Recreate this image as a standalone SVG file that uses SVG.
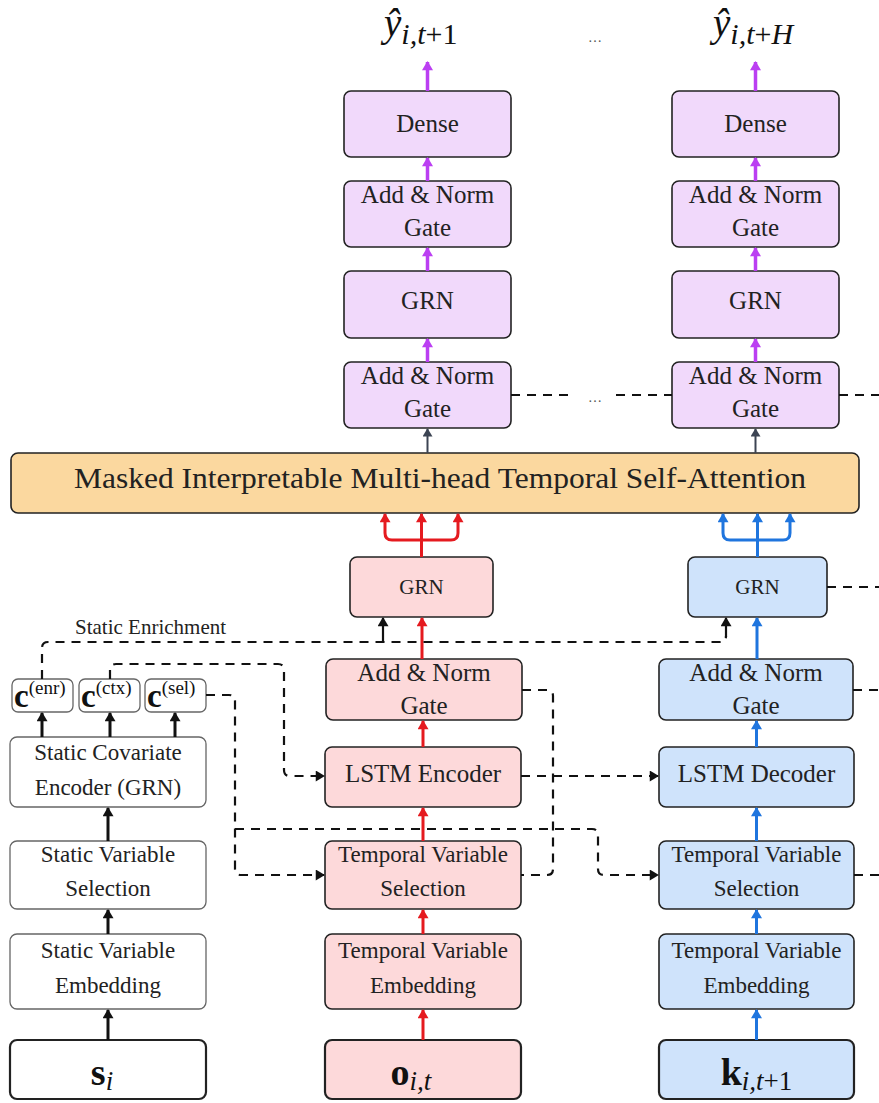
<svg xmlns="http://www.w3.org/2000/svg" width="879" height="1103" viewBox="0 0 879 1103">
  <style>
    .box{stroke:#222;stroke-width:1.6}
    .pu{fill:#f1d9fb}
    .rd{fill:#fdd9da}
    .bl{fill:#cfe3fb}
    .att{fill:#fbd89f}
    .st{fill:#fff;stroke:#666;stroke-width:1.3}
    .inp{stroke:#222;stroke-width:2.2}
    .lbl{font-family:"Liberation Serif",serif;font-size:23px;fill:#222;text-anchor:middle}
    .sm{font-size:21px}
    .big{font-size:25px}
    .math{font-family:"Liberation Serif",serif;fill:#111}
    .dash{fill:none;stroke:#111;stroke-width:2.2;stroke-dasharray:9 7}
    .ap{stroke:#bb3ff2;stroke-width:3.5;fill:none}
    .ar{stroke:#e51a1f;stroke-width:3;fill:none}
    .ab{stroke:#1f75de;stroke-width:3;fill:none}
    .ag{stroke:#3c4453;stroke-width:2;fill:none}
    .ak{stroke:#111;stroke-width:3;fill:none}
    .ak2{stroke:#111;stroke-width:2.2;fill:none}
    .dots{font-family:"Liberation Serif",serif;font-size:14px;fill:#555;text-anchor:middle}
  </style>
  <defs>
    <marker id="mP" viewBox="0 0 10 12" refX="9" refY="6" markerWidth="14" markerHeight="11" markerUnits="userSpaceOnUse" orient="auto"><path d="M0,0 L10,6 L0,12 z" fill="#bb3ff2"/></marker>
    <marker id="mR" viewBox="0 0 10 12" refX="9" refY="6" markerWidth="14" markerHeight="11" markerUnits="userSpaceOnUse" orient="auto"><path d="M0,0 L10,6 L0,12 z" fill="#e51a1f"/></marker>
    <marker id="mB" viewBox="0 0 10 12" refX="9" refY="6" markerWidth="14" markerHeight="11" markerUnits="userSpaceOnUse" orient="auto"><path d="M0,0 L10,6 L0,12 z" fill="#1f75de"/></marker>
    <marker id="mG" viewBox="0 0 10 12" refX="9" refY="6" markerWidth="12" markerHeight="10" markerUnits="userSpaceOnUse" orient="auto"><path d="M0,0 L10,6 L0,12 z" fill="#3c4453"/></marker>
    <marker id="mK" viewBox="0 0 10 12" refX="9" refY="6" markerWidth="14" markerHeight="11" markerUnits="userSpaceOnUse" orient="auto"><path d="M0,0 L10,6 L0,12 z" fill="#111"/></marker>
  </defs>

  <!-- outputs -->
  <g id="out1">
    <text class="math" x="384" y="36" font-size="39" font-style="italic">ŷ<tspan font-size="30" dy="8">i,t</tspan><tspan font-size="30" font-style="normal">+1</tspan></text>
  </g>
  <text class="dots" x="595" y="42">…</text>
  <g id="outH">
    <text class="math" x="713" y="36" font-size="39" font-style="italic">ŷ<tspan font-size="30" dy="8">i,t</tspan><tspan font-size="30" font-style="normal">+</tspan><tspan font-size="30">H</tspan></text>
  </g>

  <!-- decoder output stack, horizon 1 -->
  <g id="dense1"><rect class="box pu" x="344" y="91" width="167" height="66" rx="7"/><text class="lbl big" x="427.5" y="132">Dense</text></g>
  <g id="gate1b"><rect class="box pu" x="344" y="181" width="167" height="66" rx="7"/><text class="lbl big" x="427.5" y="203">Add &amp; Norm</text><text class="lbl big" x="427.5" y="236">Gate</text></g>
  <g id="grn1"><rect class="box pu" x="344" y="271" width="167" height="67" rx="7"/><text class="lbl big" x="427.5" y="309">GRN</text></g>
  <g id="gate1a"><rect class="box pu" x="344" y="362" width="167" height="66" rx="7"/><text class="lbl big" x="427.5" y="384">Add &amp; Norm</text><text class="lbl big" x="427.5" y="417">Gate</text></g>

  <!-- decoder output stack, horizon H -->
  <g id="denseH"><rect class="box pu" x="672" y="91" width="167" height="66" rx="7"/><text class="lbl big" x="755.5" y="132">Dense</text></g>
  <g id="gateHb"><rect class="box pu" x="672" y="181" width="167" height="66" rx="7"/><text class="lbl big" x="755.5" y="203">Add &amp; Norm</text><text class="lbl big" x="755.5" y="236">Gate</text></g>
  <g id="grnH"><rect class="box pu" x="672" y="271" width="167" height="67" rx="7"/><text class="lbl big" x="755.5" y="309">GRN</text></g>
  <g id="gateHa"><rect class="box pu" x="672" y="362" width="167" height="66" rx="7"/><text class="lbl big" x="755.5" y="384">Add &amp; Norm</text><text class="lbl big" x="755.5" y="417">Gate</text></g>

  <text class="dots" x="595" y="402">…</text>

  <!-- attention -->
  <g id="attention"><rect class="box att" x="11" y="453" width="848" height="60" rx="7"/><text class="lbl" x="440" y="488" style="font-size:29px" textLength="732" lengthAdjust="spacingAndGlyphs">Masked Interpretable Multi-head Temporal Self-Attention</text></g>

  <!-- past (encoder) column -->
  <g id="grnPast"><rect class="box rd" x="350" y="557" width="143" height="60" rx="7"/><text class="lbl sm" x="421.5" y="594">GRN</text></g>
  <g id="gatePast"><rect class="box rd" x="326" y="659" width="196" height="61" rx="7"/><text class="lbl big" x="424" y="681">Add &amp; Norm</text><text class="lbl big" x="424" y="714">Gate</text></g>
  <g id="lstmEnc"><rect class="box rd" x="325" y="747" width="196" height="60" rx="7"/><text class="lbl big" x="423" y="782">LSTM Encoder</text></g>
  <g id="tvsPast"><rect class="box rd" x="325" y="841" width="196" height="68" rx="7"/><text class="lbl" x="423" y="862">Temporal Variable</text><text class="lbl" x="423" y="896">Selection</text></g>
  <g id="tvePast"><rect class="box rd" x="325" y="934" width="196" height="75" rx="7"/><text class="lbl" x="423" y="958">Temporal Variable</text><text class="lbl" x="423" y="993">Embedding</text></g>
  <g id="inPast"><rect class="inp rd" x="325" y="1040" width="196" height="59" rx="7"/>
    <text class="math" x="411" y="1085" font-size="38" text-anchor="middle"><tspan font-weight="bold">o</tspan><tspan font-size="27" font-style="italic" dy="5">i,t</tspan></text></g>

  <!-- future (decoder) column -->
  <g id="grnFut"><rect class="box bl" x="688" y="557" width="139" height="60" rx="7"/><text class="lbl sm" x="757.5" y="594">GRN</text></g>
  <g id="gateFut"><rect class="box bl" x="659" y="659" width="194" height="61" rx="7"/><text class="lbl big" x="756" y="681">Add &amp; Norm</text><text class="lbl big" x="756" y="714">Gate</text></g>
  <g id="lstmDec"><rect class="box bl" x="659" y="747" width="195" height="60" rx="7"/><text class="lbl big" x="756.5" y="782">LSTM Decoder</text></g>
  <g id="tvsFut"><rect class="box bl" x="659" y="841" width="195" height="68" rx="7"/><text class="lbl" x="756.5" y="862">Temporal Variable</text><text class="lbl" x="756.5" y="896">Selection</text></g>
  <g id="tveFut"><rect class="box bl" x="659" y="934" width="195" height="75" rx="7"/><text class="lbl" x="756.5" y="958">Temporal Variable</text><text class="lbl" x="756.5" y="993">Embedding</text></g>
  <g id="inFut"><rect class="inp bl" x="659" y="1040" width="195" height="59" rx="7"/>
    <text class="math" x="756.5" y="1085" font-size="38" text-anchor="middle"><tspan font-weight="bold">k</tspan><tspan font-size="27" font-style="italic" dy="5">i,t</tspan><tspan font-size="27">+1</tspan></text></g>

  <!-- static column -->
  <g id="cEnr"><rect class="st" x="12" y="679" width="61" height="33" rx="6"/><text class="math" x="14" y="707" font-size="33" font-weight="bold">c<tspan font-size="19" font-weight="normal" dy="-13">(enr)</tspan></text></g>
  <g id="cCtx"><rect class="st" x="79" y="679" width="61" height="33" rx="6"/><text class="math" x="81" y="707" font-size="33" font-weight="bold">c<tspan font-size="19" font-weight="normal" dy="-13">(ctx)</tspan></text></g>
  <g id="cSel"><rect class="st" x="145" y="679" width="61" height="33" rx="6"/><text class="math" x="147" y="707" font-size="33" font-weight="bold">c<tspan font-size="19" font-weight="normal" dy="-13">(sel)</tspan></text></g>
  <g id="sce"><rect class="st" x="10" y="737" width="196" height="70" rx="7"/><text class="lbl" x="108" y="760">Static Covariate</text><text class="lbl" x="108" y="795">Encoder (GRN)</text></g>
  <g id="svs"><rect class="st" x="10" y="841" width="196" height="68" rx="7"/><text class="lbl" x="108" y="862">Static Variable</text><text class="lbl" x="108" y="896">Selection</text></g>
  <g id="sve"><rect class="st" x="10" y="934" width="196" height="75" rx="7"/><text class="lbl" x="108" y="958">Static Variable</text><text class="lbl" x="108" y="993">Embedding</text></g>
  <g id="inStatic"><rect class="inp" fill="#fff" x="10" y="1040" width="196" height="59" rx="7"/>
    <text class="math" x="102" y="1085" font-size="38" text-anchor="middle"><tspan font-weight="bold">s</tspan><tspan font-size="27" font-style="italic" dy="5">i</tspan></text></g>

  <text class="lbl" x="75" y="634" style="font-size:21px;text-anchor:start">Static Enrichment</text>

  <g id="connectors">
    <!-- output stacks -->
    <line class="ap" x1="427.5" y1="91" x2="427.5" y2="62" marker-end="url(#mP)"/>
    <line class="ap" x1="427.5" y1="181" x2="427.5" y2="158" marker-end="url(#mP)"/>
    <line class="ap" x1="427.5" y1="271" x2="427.5" y2="248" marker-end="url(#mP)"/>
    <line class="ap" x1="427.5" y1="362" x2="427.5" y2="339" marker-end="url(#mP)"/>
    <line class="ap" x1="755.5" y1="91" x2="755.5" y2="62" marker-end="url(#mP)"/>
    <line class="ap" x1="755.5" y1="181" x2="755.5" y2="158" marker-end="url(#mP)"/>
    <line class="ap" x1="755.5" y1="271" x2="755.5" y2="248" marker-end="url(#mP)"/>
    <line class="ap" x1="755.5" y1="362" x2="755.5" y2="339" marker-end="url(#mP)"/>
    <line class="ag" x1="427.5" y1="453" x2="427.5" y2="429" marker-end="url(#mG)"/>
    <line class="ag" x1="755.5" y1="453" x2="755.5" y2="429" marker-end="url(#mG)"/>

    <!-- fan-out into attention -->
    <line class="ar" x1="421.5" y1="557" x2="421.5" y2="514" marker-end="url(#mR)"/>
    <path class="ar" d="M421.5,540 H392 Q385,540 385,533 V514" marker-end="url(#mR)"/>
    <path class="ar" d="M421.5,540 H451 Q458,540 458,533 V514" marker-end="url(#mR)"/>
    <line class="ab" x1="757.5" y1="557" x2="757.5" y2="514" marker-end="url(#mB)"/>
    <path class="ab" d="M757.5,540 H730 Q723,540 723,533 V514" marker-end="url(#mB)"/>
    <path class="ab" d="M757.5,540 H783 Q790,540 790,533 V514" marker-end="url(#mB)"/>

    <!-- past column -->
    <line class="ar" x1="423" y1="1040" x2="423" y2="1010" marker-end="url(#mR)"/>
    <line class="ar" x1="423" y1="934" x2="423" y2="910" marker-end="url(#mR)"/>
    <line class="ar" x1="423" y1="841" x2="423" y2="808" marker-end="url(#mR)"/>
    <line class="ar" x1="423" y1="747" x2="423" y2="721" marker-end="url(#mR)"/>
    <line class="ar" x1="422" y1="659" x2="422" y2="618" marker-end="url(#mR)"/>

    <!-- future column -->
    <line class="ab" x1="756.5" y1="1040" x2="756.5" y2="1010" marker-end="url(#mB)"/>
    <line class="ab" x1="756.5" y1="934" x2="756.5" y2="910" marker-end="url(#mB)"/>
    <line class="ab" x1="756.5" y1="841" x2="756.5" y2="808" marker-end="url(#mB)"/>
    <line class="ab" x1="756.5" y1="747" x2="756.5" y2="721" marker-end="url(#mB)"/>
    <line class="ab" x1="757" y1="659" x2="757" y2="618" marker-end="url(#mB)"/>

    <!-- static column -->
    <line class="ak" x1="108" y1="1040" x2="108" y2="1010" marker-end="url(#mK)"/>
    <line class="ak" x1="108" y1="934" x2="108" y2="910" marker-end="url(#mK)"/>
    <line class="ak" x1="108" y1="841" x2="108" y2="808" marker-end="url(#mK)"/>
    <line class="ak" x1="42" y1="737" x2="42" y2="713" marker-end="url(#mK)"/>
    <line class="ak" x1="110" y1="737" x2="110" y2="713" marker-end="url(#mK)"/>
    <line class="ak" x1="175" y1="737" x2="175" y2="713" marker-end="url(#mK)"/>

    <!-- static enrichment -->
    <path class="dash" d="M42,679 V648 Q42,642 48,642 H720 Q726,642 726,636"/>
    <line class="ak2" x1="726" y1="637" x2="726" y2="618" marker-end="url(#mK)"/>
    <line class="ak2" x1="383" y1="642" x2="383" y2="618" marker-end="url(#mK)"/>

    <!-- static context to LSTM encoder -->
    <path class="dash" d="M110,679 V670 Q110,664 116,664 H278 Q284,664 284,670 V770 Q284,776 290,776 H324" marker-end="url(#mK)"/>
    <!-- static selection context -->
    <path class="dash" d="M206,695 H229 Q235,695 235,701 V869 Q235,875 241,875 H324" marker-end="url(#mK)"/>
    <path class="dash" d="M235,829 H592 Q598,829 598,835 V869 Q598,875 604,875 H658" marker-end="url(#mK)"/>
    <!-- skip connection around LSTM encoder -->
    <path class="dash" d="M522,690 H547 Q553,690 553,696 V869 Q553,875 547,875 H521"/>
    <!-- encoder state to decoder -->
    <path class="dash" d="M521,776 H658" marker-end="url(#mK)"/>

    <!-- links to further horizons -->
    <path class="dash" d="M511,395 H574"/>
    <path class="dash" d="M616,395 H672"/>
    <path class="dash" d="M839,395 H879"/>
    <path class="dash" d="M827,587 H879"/>
    <path class="dash" d="M853,690 H879"/>
    <path class="dash" d="M854,875 H879"/>
  </g>
</svg>
